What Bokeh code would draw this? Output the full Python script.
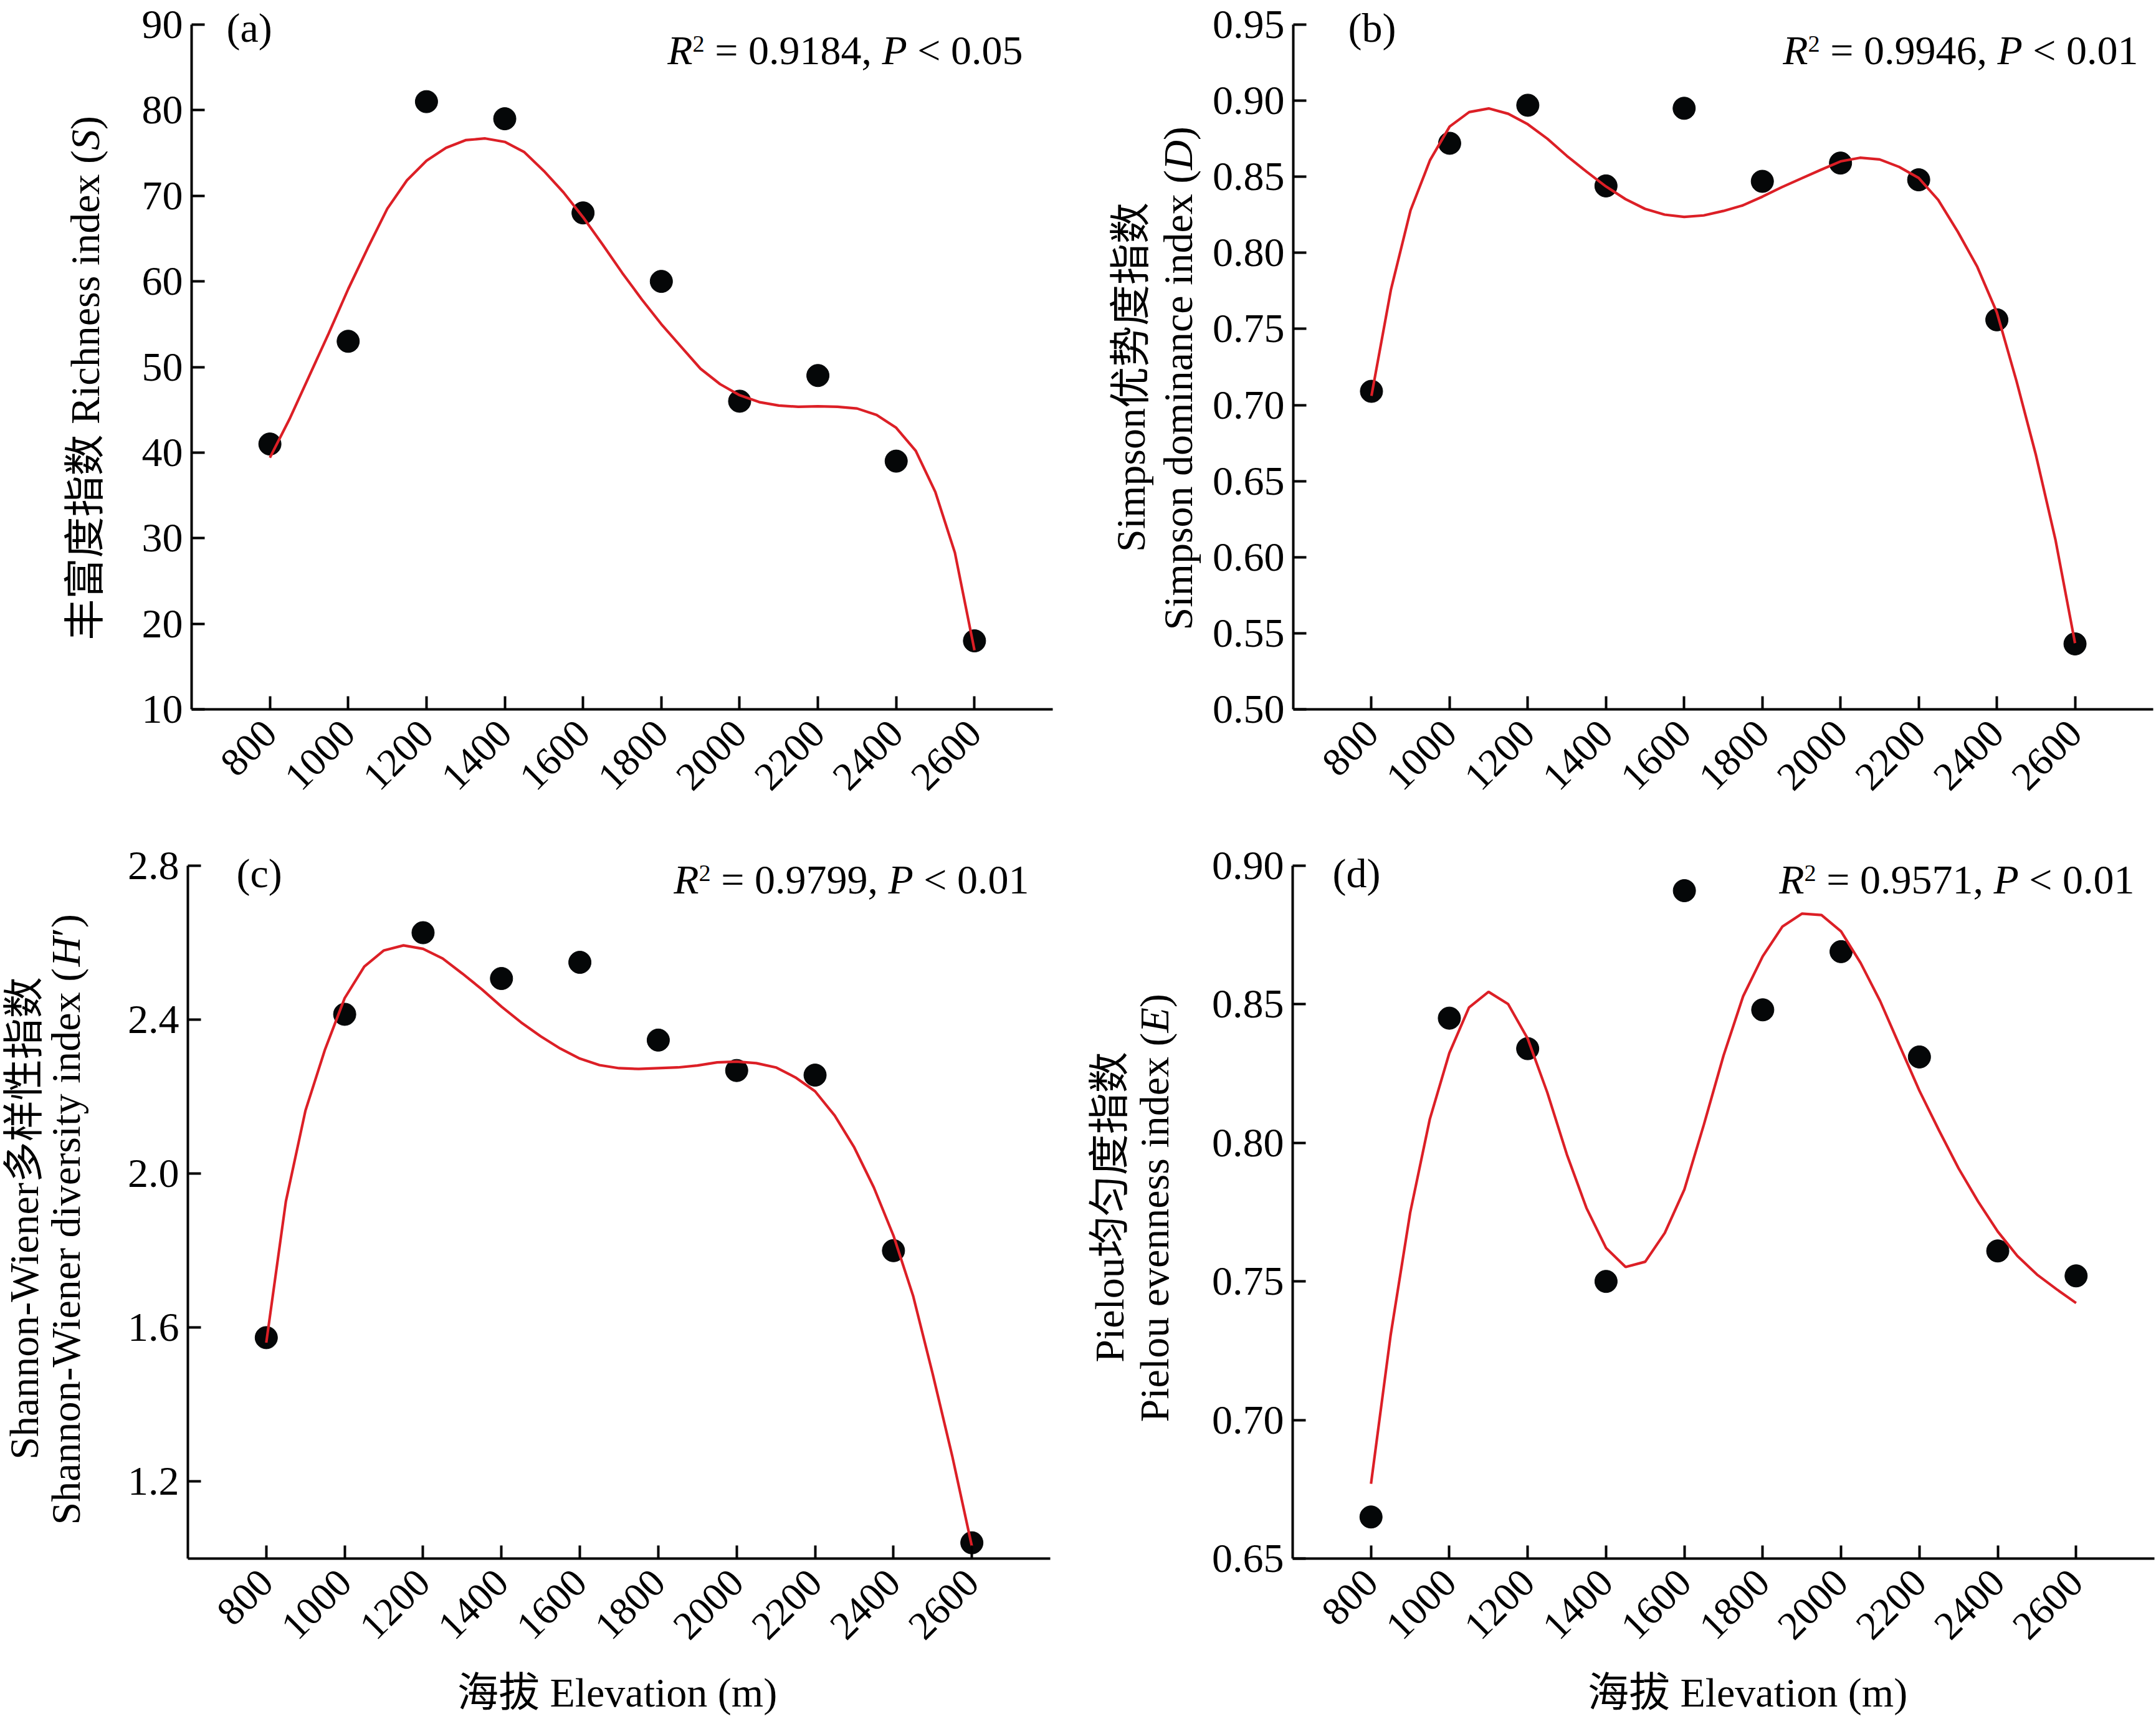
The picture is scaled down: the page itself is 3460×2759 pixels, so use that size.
import math
from bokeh.plotting import figure
from bokeh.models import Range1d, FixedTicker, PrintfTickFormatter, Label
from bokeh.layouts import row, column
from bokeh.embed import file_html
from bokeh.resources import INLINE

# ---------------- data ----------------
ELEV = [800, 1000, 1200, 1400, 1600, 1800, 2000, 2200, 2400, 2600]
RICHNESS = [41.0, 53.0, 81.0, 79.0, 68.0, 60.0, 46.0, 49.0, 39.0, 18.0]
SIMPSON = [0.709, 0.872, 0.897, 0.844, 0.895, 0.847, 0.859, 0.848, 0.756, 0.543]
SHANNON = [1.574, 2.414, 2.626, 2.507, 2.549, 2.347, 2.268, 2.256, 1.800, 1.041]
PIELOU = [0.665, 0.845, 0.834, 0.750, 0.891, 0.848, 0.869, 0.831, 0.761, 0.752]

# fitted trend lines, every 50 m
FIT_ELEV = [800, 850, 900, 950, 1000, 1050, 1100, 1150, 1200, 1250, 1300, 1350,
            1400, 1450, 1500, 1550, 1600, 1650, 1700, 1750, 1800, 1850, 1900,
            1950, 2000, 2050, 2100, 2150, 2200, 2250, 2300, 2350, 2400, 2450,
            2500, 2550, 2600]
RICHNESS_FIT = [39.4, 43.9, 48.9, 53.9, 59.1, 63.9, 68.5, 71.8, 74.1, 75.6, 76.5,
                76.7, 76.3, 75.1, 72.9, 70.4, 67.5, 64.3, 61.0, 57.9, 55.0, 52.4,
                49.8, 48.0, 46.7, 45.9, 45.5, 45.35, 45.4, 45.35, 45.15, 44.4,
                42.9, 40.2, 35.4, 28.3, 16.9]
SIMPSON_FIT = [0.706, 0.776, 0.828, 0.861, 0.883, 0.8925, 0.8949, 0.8914, 0.8845,
               0.875, 0.8637, 0.8534, 0.8436, 0.8353, 0.8289, 0.8251, 0.8236,
               0.8246, 0.8275, 0.8312, 0.8369, 0.8432, 0.8489, 0.8546, 0.8601,
               0.8625, 0.8614, 0.8565, 0.8492, 0.8348, 0.8139, 0.7908, 0.7609,
               0.7160, 0.6671, 0.6114, 0.5435]
SHANNON_FIT = [1.561, 1.928, 2.164, 2.323, 2.456, 2.538, 2.580, 2.593, 2.584,
               2.559, 2.520, 2.479, 2.434, 2.393, 2.357, 2.325, 2.299, 2.282,
               2.274, 2.272, 2.274, 2.276, 2.281, 2.289, 2.291, 2.287, 2.276,
               2.250, 2.214, 2.151, 2.068, 1.964, 1.839, 1.683, 1.480, 1.266, 1.032]
PIELOU_FIT = [0.677, 0.7305, 0.7748, 0.8085, 0.8324, 0.8488, 0.8545, 0.8501,
              0.8376, 0.8182, 0.7958, 0.7765, 0.7621, 0.7552, 0.7571, 0.7675,
              0.7832, 0.8067, 0.8315, 0.8529, 0.8673, 0.8780, 0.8827, 0.8822,
              0.8763, 0.8649, 0.8511, 0.8349, 0.8188, 0.8045, 0.7908, 0.7788,
              0.7680, 0.7592, 0.7525, 0.7472, 0.7422]

X_TICKS = [800, 1000, 1200, 1400, 1600, 1800, 2000, 2200, 2400, 2600]
RICH_TICKS = [10, 20, 30, 40, 50, 60, 70, 80, 90]
SIMP_TICKS = [0.50, 0.55, 0.60, 0.65, 0.70, 0.75, 0.80, 0.85, 0.90, 0.95]
SHAN_TICKS = [1.2, 1.6, 2.0, 2.4, 2.8]
PIEL_TICKS = [0.65, 0.70, 0.75, 0.80, 0.85, 0.90]

R2_VALUES = ["0.9184", "0.9946", "0.9799", "0.9571"]
P_VALUES = ["0.05", "0.01", "0.01", "0.01"]
PANEL_TAGS = ["(a)", "(b)", "(c)", "(d)"]
X_TITLE = "海拔 Elevation (m)"

# ---------------- styles ----------------
FONT = "Liberation Serif, Noto Sans CJK SC"
FS = 66
YTICK_FS = "66px"
XTICK_FS = "64px"
RED = "#dc1f26"
DOT = "#050708"
SHIFT = 0.36   # em: how far the renderer drops an 'alphabetic' label; compensated below

W_REG = {' ': .25, '(': .333, ')': .333, ',': .25, '.': .25, '-': .333, '=': .564,
         '<': .564, 'S': .556, 'i': .278, 'm': .778, 'p': .5, 's': .389, 'o': .5,
         'n': .5, 'd': .5, 'a': .444, 'c': .444, 'e': .444, 'x': .5, 'R': .667,
         'h': .5, 'W': .944, 'r': .333, 'v': .5, 't': .278, 'y': .5, 'P': .556,
         'l': .278, 'u': .5, 'E': .611, '\u2032': .275}
W_IT = {'S': .5, 'D': .722, 'H': .722, 'E': .611, 'R': .611, 'P': .611}


def text_w(s, italic):
    t = 0.0
    for ch in s:
        if ord(ch) >= 0x2E80:
            t += 1.0
        elif italic and ch in W_IT:
            t += W_IT[ch]
        else:
            t += W_REG.get(ch, 0.5)
    return t


def put(p, text, x, y, xo, yo, angle, italic, size, align):
    fix = SHIFT * size
    if angle == 0:
        yo += fix
    else:
        xo -= fix
    p.add_layout(Label(x=x, y=y, x_offset=xo, y_offset=yo, text=text, angle=angle,
                       text_font=FONT, text_font_style="italic" if italic else "normal",
                       text_font_size=f"{size:.1f}px", text_color="black",
                       text_align=align, text_baseline="alphabetic"))


def rich(p, pieces, x, y, xo=0, yo=0, angle=0.0, align="left", size=FS):
    """pieces: (text, italic, scale, raise) laid out one after the other."""
    widths = [text_w(t, it) * size * sc for (t, it, sc, r) in pieces]
    total = sum(widths)
    pos = {"left": 0.0, "right": -total, "center": -total / 2}[align]
    for (t, it, sc, r), w in zip(pieces, widths):
        lead = (len(t) - len(t.lstrip(" "))) * 0.25 * size * sc
        if angle == 0:
            dx, dy = pos + lead, r * size
        else:
            dx, dy = -r * size, pos + lead
        put(p, t.strip(" "), x, y, xo + dx, yo + dy, angle, it, size * sc, "left")
        pos += w


def plain(p, text, x, y, xo=0, yo=0, angle=0.0, align="left"):
    put(p, text, x, y, xo, yo, angle, False, FS, align)


def r2_pieces(r2, pv):
    return [("R", True, 1, 0), ("2", False, 0.58, 0.30), (" = " + r2 + ", ", False, 1, 0),
            ("P", True, 1, 0), (" < " + pv, False, 1, 0)]


def blank(x0, x1, h, bt, bb, page_top):
    """Empty plot whose data units are page pixels (y grows downwards)."""
    f = figure(width=x1 - x0, height=h,
               x_range=Range1d(x0, x1),
               y_range=Range1d(page_top + h - bb, page_top + bt),
               output_backend="svg", toolbar_location=None,
               x_axis_location=None, y_axis_location=None,
               min_border_left=0, min_border_right=0,
               min_border_top=bt, min_border_bottom=bb)
    f.outline_line_color = None
    f.xgrid.visible = False
    f.ygrid.visible = False
    f.background_fill_color = "white"
    f.border_fill_color = "white"
    return f


def make_panel(w, h, ylo, yhi, yticks, fmt, bl, br, bt, bb, page_top, tick_top, yvals, yfit):
    frame_top = page_top + bt
    frame_bot = page_top + h - bb
    y_end = yhi + (tick_top - frame_top) * (yhi - ylo) / (frame_bot - tick_top)
    p = figure(width=w, height=h, x_range=Range1d(600, 2800), y_range=Range1d(ylo, y_end),
               output_backend="svg", toolbar_location=None,
               min_border_left=bl, min_border_right=br,
               min_border_top=bt, min_border_bottom=bb)
    p.outline_line_color = None
    p.xgrid.visible = False
    p.ygrid.visible = False
    p.background_fill_color = "white"
    p.border_fill_color = "white"
    p.xaxis.ticker = FixedTicker(ticks=X_TICKS)
    p.yaxis.ticker = FixedTicker(ticks=yticks)
    p.yaxis.formatter = PrintfTickFormatter(format=fmt)
    p.yaxis.bounds = (ylo, yhi)
    for ax in (p.xaxis[0], p.yaxis[0]):
        ax.axis_line_width = 4
        ax.axis_line_color = "black"
        ax.major_tick_line_width = 4
        ax.major_tick_line_color = "black"
        ax.major_tick_in = 21
        ax.major_tick_out = 0
        ax.minor_tick_in = 0
        ax.minor_tick_out = 0
        ax.minor_tick_line_color = None
        ax.major_label_text_font = "Liberation Serif"
        ax.major_label_text_color = "black"
    p.yaxis.major_label_text_font_size = YTICK_FS
    p.xaxis.major_label_text_font_size = XTICK_FS
    p.xaxis.major_label_orientation = math.pi / 4
    p.xaxis.major_label_standoff = 28
    p.yaxis.major_label_standoff = 14
    p.scatter(ELEV, yvals, size=36, color=DOT)
    p.line(FIT_ELEV, yfit, line_color=RED, line_width=4.2)
    return p


V = math.pi / 2

# ---------- row 1 (page y 0 .. 1340) ----------
H1, BT1, BB1, TICK1 = 1340, 10, 202, 39
ta = blank(0, 190, H1, BT1, BB1, 0)
rich(ta, [("丰富度指数 Richness index (", False, 1, 0), ("S", True, 1, 0), (")", False, 1, 0)],
     160, 1027, angle=V)

pa = make_panel(1555, H1, 10, 90, RICH_TICKS, "%d", 117, 56, BT1, BB1, 0, TICK1, RICHNESS, RICHNESS_FIT)
plain(pa, PANEL_TAGS[0], 600, 90, 56, TICK1 - 67.5)
rich(pa, r2_pieces(R2_VALUES[0], P_VALUES[0]), 600, 90, 1334, TICK1 - 104, align="right")

tb = blank(1745, 1935, H1, BT1, BB1, 0)
plain(tb, "Simpson优势度指数", 1838, 605, angle=V, align="center")
rich(tb, [("Simpson dominance index (", False, 1, 0), ("D", True, 1, 0), (")", False, 1, 0)],
     1914, 1011, angle=V)

pb = make_panel(1525, H1, 0.50, 0.95, SIMP_TICKS, "%.2f", 140, 5, BT1, BB1, 0, TICK1, SIMPSON, SIMPSON_FIT)
plain(pb, PANEL_TAGS[1], 600, 0.95, 88, TICK1 - 67.5)
rich(pb, r2_pieces(R2_VALUES[1], P_VALUES[1]), 600, 0.95, 1356, TICK1 - 104, align="right")

# ---------- row 2 (page y 1340 .. 2676) ----------
TOP2, H2, BT2, BB2 = 1340, 1336, 25, 175
tc = blank(0, 172, H2, BT2, BB2, TOP2)
plain(tc, "Shannon-Wiener多样性指数", 62, 1955, angle=V, align="center")
rich(tc, [("Shannon-Wiener diversity index (", False, 1, 0), ("H", True, 1, 0), ("\u2032)", False, 1, 0)],
     129, 2447, angle=V)

pc = make_panel(1573, H2, 1.0, 2.8, SHAN_TICKS, "%.1f", 129, 60, BT2, BB2, TOP2, 1389, SHANNON, SHANNON_FIT)
plain(pc, PANEL_TAGS[2], 600, 2.8, 78, -35.5)
rich(pc, r2_pieces(R2_VALUES[2], P_VALUES[2]), 600, 2.8, 1350, -45.5, align="right")

td = blank(1745, 1915, H2, BT2, BB2, TOP2)
plain(td, "Pielou均匀度指数", 1804, 1937, angle=V, align="center")
rich(td, [("Pielou evenness index (", False, 1, 0), ("E", True, 1, 0), (")", False, 1, 0)],
     1876, 2282, angle=V)

pd_ = make_panel(1545, H2, 0.65, 0.90, PIEL_TICKS, "%.2f", 159, 3, BT2, BB2, TOP2, 1389, PIELOU, PIELOU_FIT)
plain(pd_, PANEL_TAGS[3], 600, 0.90, 64, -35.5)
rich(pd_, r2_pieces(R2_VALUES[3], P_VALUES[3]), 600, 0.90, 1351, -45.5, align="right")

# ---------- x-axis titles (page y 2676 .. 2759) ----------
strip = blank(0, 3460, 83, 0, 0, 2676)
plain(strip, X_TITLE, 990, 2740, align="center")
plain(strip, X_TITLE, 2804, 2740, align="center")

layout = column(row(ta, pa, tb, pb), row(tc, pc, td, pd_), strip)
open("out.html", "w").write(file_html(layout, INLINE))
